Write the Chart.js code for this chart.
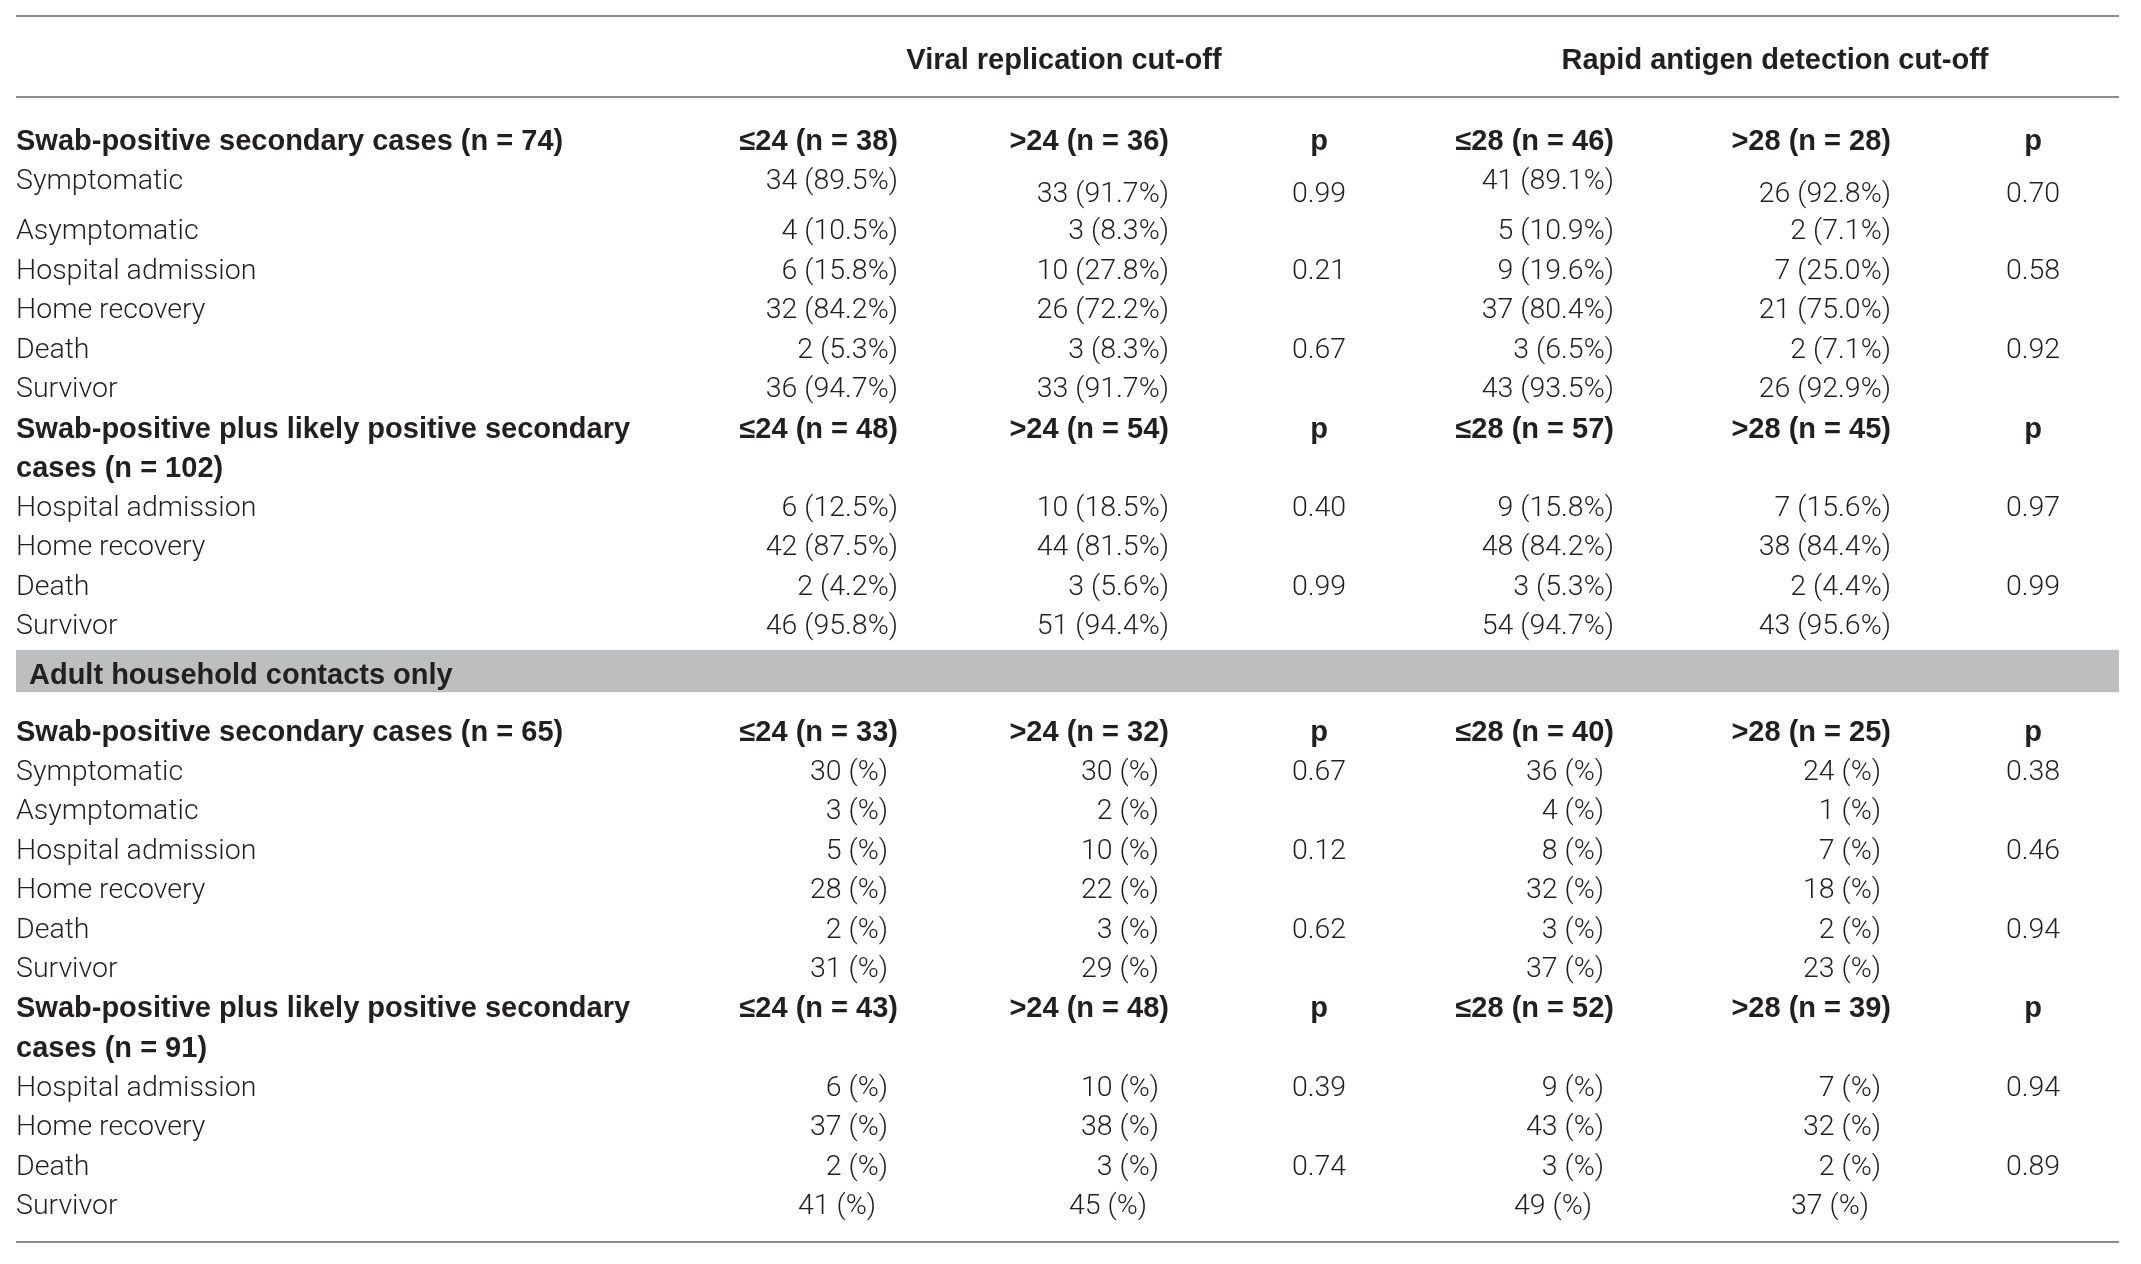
<!DOCTYPE html>
<html>
<head>
<meta charset="utf-8">
<script src="https://cdn.jsdelivr.net/npm/chart.js@4.4.1/dist/chart.umd.min.js"></script>
<style>
  html, body { margin: 0; padding: 0; background: #fff; }
  canvas { display: block; }
</style>
</head>
<body>
<canvas id="table" width="2141" height="1264"></canvas>
<script>
/*
 * Table data
 */
const groupHeaders = ["Viral replication cut-off", "Rapid antigen detection cut-off"];
const sectionTitle = "Adult household contacts only";

const rowLabels = [
  "Swab-positive secondary cases (n = 74)", "Symptomatic", "Asymptomatic", "Hospital admission",
  "Home recovery", "Death", "Survivor",
  "Swab-positive plus likely positive secondary", "cases (n = 102)",
  "Hospital admission", "Home recovery", "Death", "Survivor",
  "Swab-positive secondary cases (n = 65)", "Symptomatic", "Asymptomatic", "Hospital admission",
  "Home recovery", "Death", "Survivor",
  "Swab-positive plus likely positive secondary", "cases (n = 91)",
  "Hospital admission", "Home recovery", "Death", "Survivor"
];
const viralLow = [
  "≤24 (n = 38)", "34 (89.5%)", "4 (10.5%)", "6 (15.8%)", "32 (84.2%)", "2 (5.3%)", "36 (94.7%)",
  "≤24 (n = 48)", "", "6 (12.5%)", "42 (87.5%)", "2 (4.2%)", "46 (95.8%)",
  "≤24 (n = 33)", "30 (%)", "3 (%)", "5 (%)", "28 (%)", "2 (%)", "31 (%)",
  "≤24 (n = 43)", "", "6 (%)", "37 (%)", "2 (%)", "41 (%)"
];
const viralHigh = [
  ">24 (n = 36)", "33 (91.7%)", "3 (8.3%)", "10 (27.8%)", "26 (72.2%)", "3 (8.3%)", "33 (91.7%)",
  ">24 (n = 54)", "", "10 (18.5%)", "44 (81.5%)", "3 (5.6%)", "51 (94.4%)",
  ">24 (n = 32)", "30 (%)", "2 (%)", "10 (%)", "22 (%)", "3 (%)", "29 (%)",
  ">24 (n = 48)", "", "10 (%)", "38 (%)", "3 (%)", "45 (%)"
];
const viralP = [
  "p", "0.99", "", "0.21", "", "0.67", "",
  "p", "", "0.40", "", "0.99", "",
  "p", "0.67", "", "0.12", "", "0.62", "",
  "p", "", "0.39", "", "0.74", ""
];
const rapidLow = [
  "≤28 (n = 46)", "41 (89.1%)", "5 (10.9%)", "9 (19.6%)", "37 (80.4%)", "3 (6.5%)", "43 (93.5%)",
  "≤28 (n = 57)", "", "9 (15.8%)", "48 (84.2%)", "3 (5.3%)", "54 (94.7%)",
  "≤28 (n = 40)", "36 (%)", "4 (%)", "8 (%)", "32 (%)", "3 (%)", "37 (%)",
  "≤28 (n = 52)", "", "9 (%)", "43 (%)", "3 (%)", "49 (%)"
];
const rapidHigh = [
  ">28 (n = 28)", "26 (92.8%)", "2 (7.1%)", "7 (25.0%)", "21 (75.0%)", "2 (7.1%)", "26 (92.9%)",
  ">28 (n = 45)", "", "7 (15.6%)", "38 (84.4%)", "2 (4.4%)", "43 (95.6%)",
  ">28 (n = 25)", "24 (%)", "1 (%)", "7 (%)", "18 (%)", "2 (%)", "23 (%)",
  ">28 (n = 39)", "", "7 (%)", "32 (%)", "2 (%)", "37 (%)"
];
const rapidP = [
  "p", "0.70", "", "0.58", "", "0.92", "",
  "p", "", "0.97", "", "0.99", "",
  "p", "0.38", "", "0.46", "", "0.94", "",
  "p", "", "0.94", "", "0.89", ""
];

/*
 * Layout (x in reference pixels, y in row units)
 */
const textDrop = 0.1; // canvas "middle" sits a little above the glyph centre
const boldRows = [0, 7, 8, 13, 20, 21];
const rowPos = rowLabels.map((_, i) => {
  if (i < 13) return (i < 2 ? i : i + 0.28) + textDrop;
  return 14.96 + (i - 13) + textDrop;
});
// some cells sit lower or more to the left than the rest of the row
const rowDrop = rowLabels.map((_, i) => (i === 1 ? 0.33 : 0));
const rowNudge = rowLabels.map((_, i) => {
  if (i < 14 || boldRows.includes(i)) return 0;
  return i === 25 ? -22 : -10;
});

const columns = [
  { texts: rowLabels, x: 16, align: "left" },
  { texts: viralLow, x: 898, align: "right", nudge: true },
  { texts: viralHigh, x: 1169, align: "right", nudge: true, drop: true },
  { texts: viralP, x: 1319, align: "center", drop: true },
  { texts: rapidLow, x: 1614, align: "right", nudge: true },
  { texts: rapidHigh, x: 1891, align: "right", nudge: true, drop: true },
  { texts: rapidP, x: 2033, align: "center", drop: true }
];
const groupCenters = [1064, 1775];
const groupRow = -2.04 + textDrop;
const ruleRows = [-3.09, -1.04, 27.95];
const band = { x0: 16, x1: 2119, y0: 12.96, y1: 14.03, textX: 29, textY: 13.52 + textDrop };

const textColor = "#231f20";
const fontLight = "300 28.5px Roboto, 'Liberation Sans', sans-serif";
const fontBold = "700 29px 'Liberation Sans', Arial, sans-serif";

/*
 * Plugin drawing rules, band and cell texts
 */
const tablePlugin = {
  id: "tableText",
  beforeDatasetsDraw(chart) {
    const { ctx, scales: { x, y } } = chart;
    ctx.save();
    ctx.fillStyle = "#bdbec0";
    ctx.fillRect(x.getPixelForValue(band.x0), y.getPixelForValue(band.y0),
      x.getPixelForValue(band.x1) - x.getPixelForValue(band.x0),
      y.getPixelForValue(band.y1) - y.getPixelForValue(band.y0));
    ctx.strokeStyle = "#8c8c8c";
    ctx.lineWidth = 2;
    ruleRows.forEach(r => {
      const py = Math.round(y.getPixelForValue(r));
      ctx.beginPath();
      ctx.moveTo(x.getPixelForValue(band.x0), py);
      ctx.lineTo(x.getPixelForValue(band.x1), py);
      ctx.stroke();
    });
    ctx.fillStyle = textColor;
    ctx.textBaseline = "middle";
    ctx.font = fontBold;
    ctx.textAlign = "left";
    ctx.fillText(sectionTitle, x.getPixelForValue(band.textX), y.getPixelForValue(band.textY));
    ctx.textAlign = "center";
    groupHeaders.forEach((h, i) => {
      ctx.fillText(h, x.getPixelForValue(groupCenters[i]), y.getPixelForValue(groupRow));
    });
    ctx.restore();
  },
  afterDatasetsDraw(chart) {
    const { ctx } = chart;
    ctx.save();
    ctx.fillStyle = textColor;
    ctx.textBaseline = "middle";
    chart.data.datasets.forEach((ds, di) => {
      const meta = chart.getDatasetMeta(di);
      ctx.textAlign = columns[di].align;
      meta.data.forEach((pt, i) => {
        const t = ds.data[i].text;
        if (!t) return;
        ctx.font = boldRows.includes(i) ? fontBold : fontLight;
        ctx.fillText(t, pt.x, pt.y);
      });
    });
    ctx.restore();
  }
};

const datasets = columns.map(col => ({
  data: col.texts.map((t, i) => ({
    x: col.x + (col.nudge ? rowNudge[i] : 0),
    y: rowPos[i] + (col.drop ? rowDrop[i] : 0),
    text: t
  })),
  pointRadius: 0,
  showLine: false
}));

new Chart(document.getElementById("table"), {
  type: "scatter",
  data: { datasets },
  options: {
    responsive: false,
    animation: false,
    devicePixelRatio: 1,
    layout: { padding: 0 },
    plugins: { legend: { display: false }, tooltip: { enabled: false } },
    scales: {
      x: { type: "linear", min: 0, max: 2141, display: false },
      y: { type: "linear", min: -3.494, max: 28.506, reverse: true, display: false }
    }
  },
  plugins: [tablePlugin]
});
</script>
</body>
</html>
